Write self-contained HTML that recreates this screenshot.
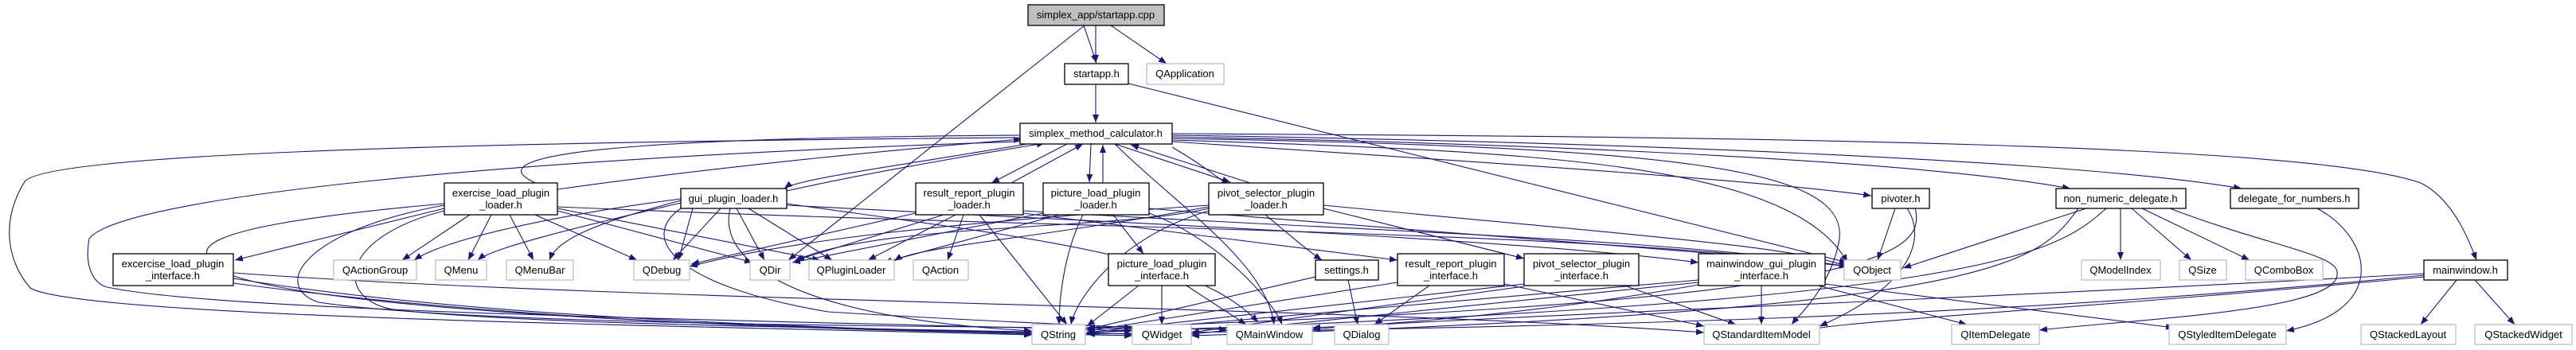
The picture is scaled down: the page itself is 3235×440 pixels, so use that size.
<!DOCTYPE html>
<html><head><meta charset="utf-8"><style>
html,body{margin:0;padding:0;background:#fff;}
svg{display:block;}
text{font-family:"Liberation Sans",Arial,sans-serif;font-size:13px;fill:#000;text-anchor:middle;}
.b{fill:#fff;stroke:#000;stroke-width:1.3;}
.g{fill:#fff;stroke:#bfbfbf;stroke-width:1.3;}
.e{fill:none;stroke:#191970;stroke-width:1.1;marker-end:url(#a);}
</style></head><body>
<svg width="3235" height="440" viewBox="0 0 3235 440" xmlns="http://www.w3.org/2000/svg">
<defs><marker id="a" viewBox="0 0 10 8" refX="10" refY="4" markerWidth="10" markerHeight="8" markerUnits="userSpaceOnUse" orient="auto"><path d="M0,0 L10,4 L0,8 z" fill="#191970"/></marker></defs>

<!-- edges -->
<g>
<path class="e" d="M1361,32 L1377,79"/>
<path class="e" d="M1361,32 L1377,79" style="display:none"/>
<path class="e" d="M1376,32 L1376,79"/>
<path class="e" d="M1395,32 L1465,80"/>
<path class="e" d="M1362,32 L990,327"/>
<path class="e" d="M1376,106 L1376,154"/>
<path class="e" d="M1417,105 L2320,330"/>

<!-- smc outgoing -->
<path class="e" d="M1281,170 C1000,172 500,180 701,240"/>
<path class="e" d="M1290,181 C1150,205 1000,225 985,237"/>
<path class="e" d="M1340,181 L1245,230"/>
<path class="e" d="M1370,181 L1368,229"/>
<path class="e" d="M1400,181 L1545,229"/>
<path class="e" d="M1472,178 C1800,200 2200,225 2350,246"/>
<path class="e" d="M1472,172 C1900,180 2400,200 2600,237"/>
<path class="e" d="M1472,170 C2000,178 2600,200 2815,237"/>
<path class="e" d="M1472,168 C2200,172 2900,180 3040,230 C3080,250 3100,300 3110,327"/>
<path class="e" d="M1472,185 C1550,230 1620,300 1660,327"/>
<path class="e" d="M1472,176 C1900,190 2250,200 2320,330"/>
<path class="e" d="M1472,174 C2100,185 2320,210 2310,300 C2300,360 2260,395 2250,408"/>
<path class="e" d="M1400,181 C1480,260 1590,330 1600,408"/>
<path class="e" d="M1281,173 C400,180 40,200 30,230 C0,280 10,330 38,362 C100,400 900,410 1296,421"/>
<path class="e" d="M1281,178 C600,200 150,250 112,300 C105,340 120,360 140,362 C300,395 1100,405 1422,416"/>

<!-- back edges to smc -->
<path class="e" d="M700,238 C900,210 1100,190 1283,175"/>
<path class="e" d="M988,240 C1100,215 1250,190 1312,180"/>
<path class="e" d="M1270,230 L1360,181"/>
<path class="e" d="M1385,230 L1385,182"/>
<path class="e" d="M1570,230 L1420,182"/>

<!-- exercise loader -->
<path class="e" d="M558,262 L295,327"/>
<path class="e" d="M590,270 L505,327"/>
<path class="e" d="M617,270 L588,327"/>
<path class="e" d="M640,270 L670,327"/>
<path class="e" d="M672,270 L800,327"/>
<path class="e" d="M700,265 L945,330"/>
<path class="e" d="M700,262 L1030,327"/>
<path class="e" d="M558,256 C400,270 250,290 260,320 C240,380 800,410 1296,418"/>
<path class="e" d="M558,258 C380,290 340,360 400,380 C600,410 1200,410 1541,414"/>
<path class="e" d="M558,265 C420,300 420,380 500,390 C700,410 1100,412 1422,420"/>
<path class="e" d="M700,260 C1400,290 2000,290 2320,335"/>

<!-- exercise interface -->
<path class="e" d="M293,350 C600,400 1000,410 1296,420"/>
<path class="e" d="M293,356 C700,410 1100,415 1422,422"/>
<path class="e" d="M293,343 C800,380 1700,385 2140,418"/>

<!-- gui loader -->
<path class="e" d="M870,262 L852,327"/>
<path class="e" d="M905,262 L845,327"/>
<path class="e" d="M925,262 L960,327"/>
<path class="e" d="M940,262 L1045,327"/>
<path class="e" d="M855,255 C750,280 620,310 600,327"/>
<path class="e" d="M855,252 C750,280 700,300 690,327"/>
<path class="e" d="M855,250 C700,270 560,300 520,327"/>
<path class="e" d="M917,262 C900,330 1000,400 1296,416"/>
<path class="e" d="M988,256 C1300,300 1500,320 1580,405"/>
<path class="e" d="M988,258 C1400,280 1900,300 2133,330"/>
<path class="e" d="M855,262 C800,300 850,360 1040,392 C1250,405 1400,410 1422,412"/>

<!-- result report loader -->
<path class="e" d="M1185,270 L1000,327"/>
<path class="e" d="M1200,270 L1090,327"/>
<path class="e" d="M1210,270 L1190,327"/>
<path class="e" d="M1230,270 L1340,408"/>
<path class="e" d="M1285,268 L1755,327"/>
<path class="e" d="M1285,265 C1700,290 2100,300 2320,335"/>
<path class="e" d="M1150,268 L868,332"/>

<!-- picture load loader -->
<path class="e" d="M1398,270 L1436,319"/>
<path class="e" d="M1360,270 C1335,320 1330,380 1330,408"/>
<path class="e" d="M1310,268 L995,330"/>
<path class="e" d="M1330,270 L1110,330"/>
<path class="e" d="M1443,262 C1900,300 2200,320 2320,335"/>
<path class="e" d="M1443,268 C1530,300 1600,380 1610,408"/>

<!-- pivot selector loader -->
<path class="e" d="M1662,262 L1914,325"/>
<path class="e" d="M1518,262 C1400,290 1100,280 998,328"/>
<path class="e" d="M1518,260 C1300,300 1150,310 1123,328"/>
<path class="e" d="M1662,258 C2100,300 2250,310 2320,335"/>
<path class="e" d="M1518,265 C1400,300 1350,380 1345,408"/>
<path class="e" d="M1518,258 C1200,280 1000,300 866,335"/>

<!-- picture load interface -->
<path class="e" d="M1430,359 L1365,410"/>
<path class="e" d="M1459,359 L1459,408"/>
<path class="e" d="M1490,359 L1565,408"/>

<!-- settings -->
<path class="e" d="M1652,348 L1365,414"/>
<path class="e" d="M1693,352 L1705,408"/>
<!-- rr interface -->
<path class="e" d="M1755,355 L1365,416"/>
<path class="e" d="M1795,359 L1726,408"/>
<path class="e" d="M1889,357 L2140,410"/>
<!-- ps interface -->
<path class="e" d="M1914,357 L1365,418"/>
<path class="e" d="M2040,359 L2180,408"/>
<path class="e" d="M1914,360 L1496,418"/>
<!-- mwgi -->
<path class="e" d="M2133,352 L1365,419"/>
<path class="e" d="M2212,359 L2212,408"/>
<path class="e" d="M2283,359 L2470,408"/>
<path class="e" d="M2292,357 L2730,412"/>
<path class="e" d="M2133,355 L1496,420"/>
<path class="e" d="M2133,358 C1900,400 1700,410 1648,412"/>
<!-- pivoter -->
<path class="e" d="M2380,262 L2358,327"/>
<path class="e" d="M2395,262 C2420,300 2400,360 2285,410"/>
<path class="e" d="M2405,262 C2420,320 2360,380 1365,412"/>
<path class="e" d="M2410,262 C2440,300 2450,330 2390,330" style="display:none"/>
<!-- non numeric -->
<path class="e" d="M2663,262 L2663,327"/>
<path class="e" d="M2677,262 L2752,327"/>
<path class="e" d="M2690,262 L2825,327"/>
<path class="e" d="M2620,262 L2390,337"/>
<path class="e" d="M2645,262 C2580,320 2500,380 1365,418"/>
<path class="e" d="M2725,262 C2850,310 2940,320 2935,345 C2935,390 2700,400 2561,415"/>
<path class="e" d="M2610,262 C2560,330 2520,390 1496,422"/>
<!-- delegate for numbers -->
<path class="e" d="M2910,262 C2980,300 3000,390 2871,416"/>
<!-- mainwindow -->
<path class="e" d="M3085,352 L3040,408"/>
<path class="e" d="M3108,352 L3158,408"/>
<path class="e" d="M3044,346 C2500,400 2000,410 1365,420"/>
<path class="e" d="M3044,348 C2600,390 2200,410 2285,418"/>
<path class="e" d="M3044,344 C2400,380 1800,400 1648,414"/>
</g>

<!-- nodes -->
<g>
<rect x="1291" y="6" width="171" height="26" fill="#bfbfbf" stroke="#000" stroke-width="1.3"/><text x="1376" y="23">simplex_app/startapp.cpp</text>
<rect class="b" x="1337" y="80" width="80" height="26"/><text x="1377" y="97">startapp.h</text>
<rect class="g" x="1440" y="80" width="97" height="26"/><text x="1488" y="97">QApplication</text>
<rect class="b" x="1281" y="155" width="191" height="26"/><text x="1376" y="172">simplex_method_calculator.h</text>

<rect class="b" x="558" y="230" width="142" height="40"/><text x="629" y="247">exercise_load_plugin</text><text x="629" y="262">_loader.h</text>
<rect class="b" x="855" y="237" width="133" height="25"/><text x="921" y="254">gui_plugin_loader.h</text>
<rect class="b" x="1150" y="230" width="135" height="40"/><text x="1217" y="247">result_report_plugin</text><text x="1217" y="262">_loader.h</text>
<rect class="b" x="1310" y="230" width="133" height="40"/><text x="1376" y="247">picture_load_plugin</text><text x="1376" y="262">_loader.h</text>
<rect class="b" x="1518" y="230" width="144" height="40"/><text x="1590" y="247">pivot_selector_plugin</text><text x="1590" y="262">_loader.h</text>
<rect class="b" x="2351" y="237" width="72" height="25"/><text x="2387" y="254">pivoter.h</text>
<rect class="b" x="2582" y="237" width="163" height="25"/><text x="2663" y="254">non_numeric_delegate.h</text>
<rect class="b" x="2801" y="237" width="161" height="25"/><text x="2881" y="254">delegate_for_numbers.h</text>

<rect class="b" x="142" y="319" width="151" height="40"/><text x="217" y="336">excercise_load_plugin</text><text x="217" y="351">_interface.h</text>
<rect class="g" x="419" y="327" width="104" height="25"/><text x="471" y="344">QActionGroup</text>
<rect class="g" x="547" y="327" width="64" height="25"/><text x="579" y="344">QMenu</text>
<rect class="g" x="636" y="327" width="84" height="25"/><text x="678" y="344">QMenuBar</text>
<rect class="g" x="796" y="327" width="70" height="25"/><text x="831" y="344">QDebug</text>
<rect class="g" x="942" y="327" width="50" height="25"/><text x="967" y="344">QDir</text>
<rect class="g" x="1016" y="327" width="107" height="25"/><text x="1069" y="344">QPluginLoader</text>
<rect class="g" x="1147" y="327" width="69" height="25"/><text x="1181" y="344">QAction</text>
<rect class="b" x="1392" y="319" width="134" height="40"/><text x="1459" y="336">picture_load_plugin</text><text x="1459" y="351">_interface.h</text>
<rect class="b" x="1652" y="327" width="79" height="25"/><text x="1691" y="344">settings.h</text>
<rect class="b" x="1755" y="319" width="134" height="40"/><text x="1822" y="336">result_report_plugin</text><text x="1822" y="351">_interface.h</text>
<rect class="b" x="1914" y="319" width="144" height="40"/><text x="1986" y="336">pivot_selector_plugin</text><text x="1986" y="351">_interface.h</text>
<rect class="b" x="2133" y="319" width="159" height="40"/><text x="2212" y="336">mainwindow_gui_plugin</text><text x="2212" y="351">_interface.h</text>
<rect class="g" x="2316" y="327" width="71" height="25"/><text x="2351" y="344">QObject</text>
<rect class="g" x="2614" y="327" width="99" height="25"/><text x="2663" y="344">QModelIndex</text>
<rect class="g" x="2737" y="327" width="59" height="25"/><text x="2766" y="344">QSize</text>
<rect class="g" x="2820" y="327" width="97" height="25"/><text x="2868" y="344">QComboBox</text>
<rect class="b" x="3044" y="327" width="105" height="25"/><text x="3096" y="344">mainwindow.h</text>

<rect class="g" x="1296" y="408" width="67" height="25"/><text x="1329" y="425">QString</text>
<rect class="g" x="1422" y="408" width="74" height="25"/><text x="1459" y="425">QWidget</text>
<rect class="g" x="1541" y="408" width="107" height="25"/><text x="1594" y="425">QMainWindow</text>
<rect class="g" x="1676" y="408" width="68" height="25"/><text x="1710" y="425">QDialog</text>
<rect class="g" x="2140" y="408" width="145" height="25"/><text x="2212" y="425">QStandardItemModel</text>
<rect class="g" x="2451" y="408" width="110" height="25"/><text x="2506" y="425">QItemDelegate</text>
<rect class="g" x="2724" y="408" width="147" height="25"/><text x="2797" y="425">QStyledItemDelegate</text>
<rect class="g" x="2965" y="408" width="119" height="25"/><text x="3024" y="425">QStackedLayout</text>
<rect class="g" x="3108" y="408" width="122" height="25"/><text x="3169" y="425">QStackedWidget</text>
</g>
</svg>
</body></html>
